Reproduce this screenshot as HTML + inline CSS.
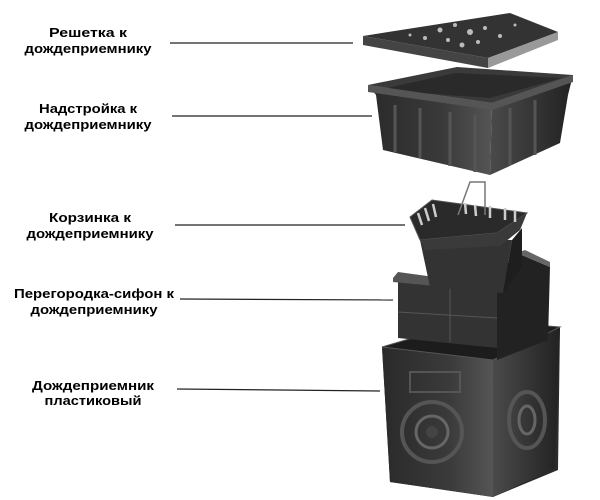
<!DOCTYPE html>
<html><head><meta charset="utf-8"><style>
html,body{margin:0;padding:0;background:#fff;}
svg{display:block}
text{font-family:"Liberation Sans",sans-serif;font-weight:bold;font-size:13px;fill:#000;text-anchor:middle}
</style></head><body>
<svg width="600" height="500" viewBox="0 0 600 500">
<defs>
<linearGradient id="g1" x1="0" y1="0" x2="1" y2="0"><stop offset="0" stop-color="#2a2a2a"/><stop offset="0.6" stop-color="#3a3a3a"/><stop offset="1" stop-color="#555"/></linearGradient>
<linearGradient id="g2" x1="0" y1="0" x2="1" y2="0"><stop offset="0" stop-color="#4a4a4a"/><stop offset="1" stop-color="#222"/></linearGradient>
</defs>
<text x="88" y="37" textLength="78" lengthAdjust="spacingAndGlyphs">Решетка к</text>
<text x="88" y="53" textLength="127" lengthAdjust="spacingAndGlyphs">дождеприемнику</text>
<text x="88" y="113" textLength="98" lengthAdjust="spacingAndGlyphs">Надстройка к</text>
<text x="88" y="129" textLength="127" lengthAdjust="spacingAndGlyphs">дождеприемнику</text>
<text x="90" y="222" textLength="82" lengthAdjust="spacingAndGlyphs">Корзинка к</text>
<text x="90" y="238" textLength="127" lengthAdjust="spacingAndGlyphs">дождеприемнику</text>
<text x="94" y="298" textLength="160" lengthAdjust="spacingAndGlyphs">Перегородка-сифон к</text>
<text x="94" y="314" textLength="127" lengthAdjust="spacingAndGlyphs">дождеприемнику</text>
<text x="93" y="390" textLength="122" lengthAdjust="spacingAndGlyphs">Дождеприемник</text>
<text x="93" y="405" textLength="97" lengthAdjust="spacingAndGlyphs">пластиковый</text>
<g stroke="#222" stroke-width="1.2">
<line x1="170" y1="43" x2="353" y2="43"/>
<line x1="172" y1="116" x2="372" y2="116"/>
<line x1="175" y1="225" x2="405" y2="225"/>
<line x1="180" y1="299" x2="393" y2="300"/>
<line x1="177" y1="389" x2="380" y2="391"/>
</g>
<!-- base box -->
<polygon points="382,347 473,320 560,327 558,470 493,497 390,482" fill="#2b2b2b"/>
<polygon points="382,347 493,360 493,497 390,482" fill="url(#g1)"/>
<polygon points="493,360 560,327 555,468 493,497" fill="url(#g2)"/>
<polygon points="382,347 473,320 560,327 493,360" fill="#1c1c1c" stroke="#555"/>
<circle cx="432" cy="432" r="30" fill="none" stroke="#555" stroke-width="4"/>
<circle cx="432" cy="432" r="16" fill="none" stroke="#666" stroke-width="3"/>
<circle cx="432" cy="432" r="6" fill="#444"/>
<ellipse cx="527" cy="420" rx="18" ry="28" fill="none" stroke="#555" stroke-width="4"/>
<ellipse cx="527" cy="420" rx="8" ry="14" fill="none" stroke="#666" stroke-width="3"/>
<rect x="410" y="372" width="50" height="20" fill="none" stroke="#555" stroke-width="2"/>
<!-- siphon -->
<polygon points="497,275 517,253 550,267 548,340 497,360" fill="#222"/>
<polygon points="398,282 497,290 497,348 398,338" fill="#333"/>
<polygon points="393,278 398,272 500,286 497,292 393,282" fill="#555"/>
<polygon points="517,253 525,250 550,262 550,267" fill="#666"/>
<line x1="398" y1="312" x2="497" y2="318" stroke="#555"/>
<line x1="450" y1="285" x2="450" y2="342" stroke="#555"/>
<!-- basket -->
<polygon points="420,240 512,240 503,293 430,287" fill="#333"/>
<polygon points="503,293 512,240 522,228 522,267" fill="#1e1e1e"/>
<polygon points="410,217 432,200 527,213 497,233 420,240" fill="#2a2a2a" stroke="#555"/>
<polygon points="420,240 497,233 527,213 520,230 500,246 425,250" fill="#3a3a3a"/>
<g stroke="#ccc" stroke-width="2.5">
<line x1="418" y1="213" x2="422" y2="225"/><line x1="425" y1="208" x2="429" y2="221"/>
<line x1="433" y1="204" x2="436" y2="217"/>
<line x1="465" y1="203" x2="466" y2="214"/><line x1="475" y1="205" x2="476" y2="216"/>
<line x1="490" y1="206" x2="490" y2="218"/><line x1="505" y1="208" x2="505" y2="220"/>
<line x1="515" y1="210" x2="515" y2="222"/>
</g>
<polyline points="458,215 470,182 485,182 485,215" fill="none" stroke="#777" stroke-width="1.5"/>
<!-- upstand -->
<polygon points="368,85 457,67 573,75 492,103" fill="#3a3a3a"/>
<polygon points="378,90 455,73 562,78 490,98" fill="#2a2a2a"/>
<polygon points="368,85 492,103 490,175 383,150 376,95" fill="url(#g1)"/>
<polygon points="492,103 573,75 568,95 560,143 490,175" fill="url(#g2)"/>
<polygon points="368,85 492,103 573,75 573,82 492,110 368,92" fill="#555"/>
<g stroke="#555" stroke-width="3">
<line x1="395" y1="105" x2="395" y2="152"/><line x1="420" y1="108" x2="420" y2="158"/>
<line x1="450" y1="112" x2="450" y2="166"/><line x1="475" y1="115" x2="475" y2="172"/>
<line x1="510" y1="108" x2="510" y2="165"/><line x1="535" y1="100" x2="535" y2="155"/>
</g>
<!-- grate -->
<polygon points="363,36 510,13 558,32 488,58" fill="#333"/>
<polygon points="363,36 488,58 488,68 363,45" fill="#444"/>
<polygon points="488,58 558,32 558,40 488,68" fill="#999"/>
<g fill="#bbb">
<circle cx="440" cy="30" r="2.5"/><circle cx="455" cy="25" r="2"/><circle cx="470" cy="32" r="3"/>
<circle cx="448" cy="40" r="2"/><circle cx="485" cy="28" r="2"/><circle cx="462" cy="45" r="2.5"/>
<circle cx="425" cy="38" r="2"/><circle cx="500" cy="36" r="2"/><circle cx="478" cy="42" r="2"/>
<circle cx="410" cy="35" r="1.5"/><circle cx="515" cy="25" r="1.5"/>
</g>
</svg>
</body></html>
